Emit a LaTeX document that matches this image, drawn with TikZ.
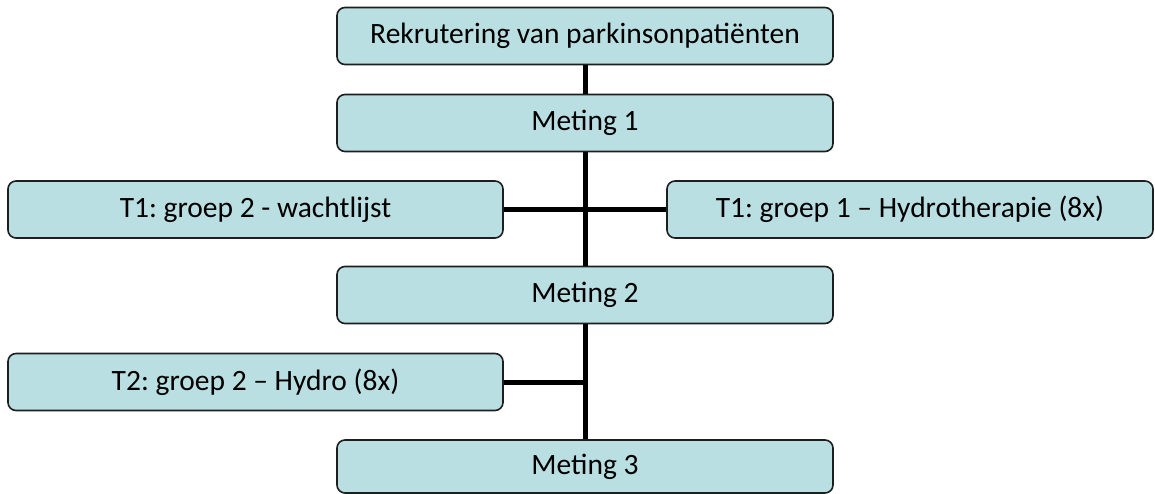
\documentclass[tikz,border=0pt]{standalone}
\usepackage{fontspec}
\setmainfont{Carlito}
\frenchspacing
\definecolor{boxfill}{RGB}{186,223,226}
\definecolor{boxline}{RGB}{30,30,30}
\begin{document}
\begin{tikzpicture}[x=1pt,y=-1pt,
  box/.style={draw=boxline, line width=1.6pt, fill=boxfill, rounded corners=8pt,
    minimum height=57pt, inner sep=0pt, text=black,
    font=\fontsize{29.5}{34}\selectfont},
  widebox/.style={box, minimum width=496pt},
  conn/.style={draw=black, line width=5pt}]
\useasboundingbox (0,0) rectangle (1155,494);
\node[widebox] (rek) at (585,36) {Rekrutering van parkinsonpatiënten};
\node[widebox] (m1) at (585,123) {Meting 1};
\node[box, minimum width=495pt] (t1l) at (255.5,209.5) {T1: groep 2 - wachtlijst};
\node[box, minimum width=486pt] (t1r) at (910,209.5) {T1: groep 1 – Hydrotherapie (8x)};
\node[widebox] (m2) at (585,295) {Meting 2};
\node[box, minimum width=495pt] (t2) at (255.5,382) {T2: groep 2 – Hydro (8x)};
\node[widebox, minimum height=53pt] (m3) at (585,466.5) {Meting 3};
\draw[conn] (rek.south) -- (m1.north);
\draw[conn] (m1.south) -- (m2.north);
\draw[conn] (m2.south) -- (m3.north);
\draw[conn] (t1l.east) -- (t1r.west);
\draw[conn] (t2.east) -- (t2.east -| m2.south);
\end{tikzpicture}
\end{document}
